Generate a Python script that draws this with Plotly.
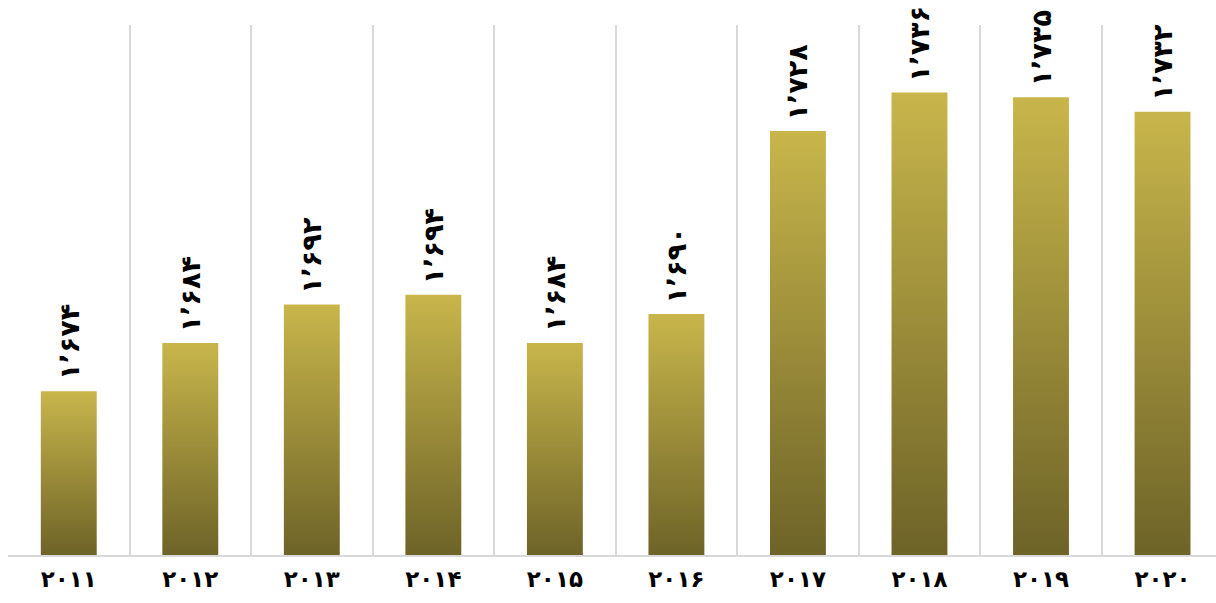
import plotly.graph_objects as go

years = ["۲۰۱۱", "۲۰۱۲", "۲۰۱۳", "۲۰۱۴", "۲۰۱۵", "۲۰۱۶", "۲۰۱۷", "۲۰۱۸", "۲۰۱۹", "۲۰۲۰"]
values = [1674, 1684, 1692, 1694, 1684, 1690, 1728, 1736, 1735, 1732]
value_labels = ["۱٬۶۷۴", "۱٬۶۸۴", "۱٬۶۹۲", "۱٬۶۹۴", "۱٬۶۸۴", "۱٬۶۹۰", "۱٬۷۲۸", "۱٬۷۳۶", "۱٬۷۳۵", "۱٬۷۳۲"]

Y_MIN, Y_MAX = 1640, 1750
BAR_HALF = 0.23
LIGHT = "#C8B64B"
DARK = "#6E6328"

fig = go.Figure()

# each bar is a filled rectangle with a vertical gradient (dark base -> light top)
for i, v in enumerate(values):
    xs = [i - BAR_HALF, i + BAR_HALF, i + BAR_HALF, i - BAR_HALF, i - BAR_HALF]
    ys = [Y_MIN, Y_MIN, v, v, Y_MIN]
    fig.add_trace(go.Scatter(
        x=xs, y=ys, mode="lines", fill="toself",
        line=dict(width=0, color=LIGHT),
        fillgradient=dict(type="vertical", colorscale=[[0, DARK], [1, LIGHT]]),
        hoverinfo="skip", showlegend=False,
    ))
    fig.add_annotation(
        x=i, y=v, text=value_labels[i], textangle=-90, showarrow=False,
        xanchor="center", yanchor="bottom", yshift=9,
        font=dict(family="DejaVu Sans", size=27, color="#000000", weight="bold"),
    )

# invisible trace on the secondary x axis so its boundary gridlines render
fig.add_trace(go.Scatter(x=[0], y=[Y_MIN], xaxis="x2", mode="markers",
                         marker=dict(opacity=0), hoverinfo="skip", showlegend=False))

x_range = [-0.5, 9.44]
fig.update_layout(
    width=1216, height=603,
    margin=dict(l=8, r=0, t=25, b=48),
    paper_bgcolor="white", plot_bgcolor="white",
    xaxis=dict(
        range=x_range, tickmode="array", tickvals=list(range(len(years))), ticktext=years,
        showgrid=False, zeroline=False, ticks="", ticklabelstandoff=2,
        showline=True, linecolor="#D9D9D9", linewidth=2,
        tickfont=dict(family="DejaVu Sans", size=23, color="#000000", weight="bold"),
    ),
    xaxis2=dict(
        range=x_range, overlaying="x", tickmode="array",
        tickvals=[k - 0.5 for k in range(len(years) + 1)],
        showgrid=True, gridcolor="#D9D9D9", gridwidth=2,
        showticklabels=False, zeroline=False, ticks="",
    ),
    yaxis=dict(range=[Y_MIN, Y_MAX], visible=False, showgrid=False, zeroline=False),
)

fig.write_html("out.html")
